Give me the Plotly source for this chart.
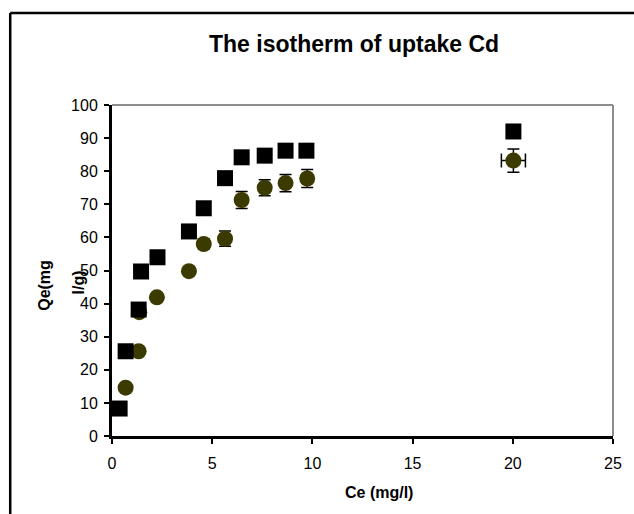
import plotly.graph_objects as go

# ---- data ----
sq_x = [0.38, 0.68, 1.33, 1.45, 2.27, 3.84, 4.58, 5.64, 6.47, 7.62, 8.66, 9.70, 20.03]
sq_y = [8.3, 25.6, 38.2, 49.7, 54.0, 61.8, 68.8, 77.9, 84.2, 84.7, 86.2, 86.2, 92.0]

ci_x = [0.68, 1.33, 1.36, 2.24, 3.84, 4.58, 5.64, 6.47, 7.62, 8.66, 9.74, 20.03]
ci_y = [14.6, 25.6, 37.4, 41.9, 49.8, 58.0, 59.6, 71.3, 75.0, 76.4, 77.8, 83.2]
ci_yerr = [1.0, 1.0, 1.0, 1.0, 1.0, 1.5, 2.3, 2.6, 2.4, 2.6, 2.7, 3.5]
ci_xerr = [0, 0, 0, 0, 0, 0, 0, 0, 0, 0, 0, 0.6]

title_text = "The isotherm of uptake Cd"
x_title = "Ce (mg/l)"
y_title_lines = ["Qe(mg", "l/g)"]

FONT = "Liberation Sans, Arial, sans-serif"

W, H = 634, 514
# plot area in page pixels
PL, PR, PT, PB = 112, 619, 105, 436
L = PL
R = W - PR
T = PT
B = H - PB
pw = W - L - R
ph = H - T - B


def px(xp):
    return (xp - L) / pw


def py(yp):
    return (H - B - yp) / ph


fig = go.Figure()

fig.add_trace(go.Scatter(
    x=ci_x, y=ci_y, mode="markers",
    marker=dict(symbol="circle", size=16, color="#3b3a00", line=dict(width=0)),
    error_y=dict(type="data", array=ci_yerr, visible=True, color="black", thickness=1.5, width=6),
    error_x=dict(type="data", array=ci_xerr, visible=True, color="black", thickness=1.5, width=7),
    showlegend=False, cliponaxis=False,
))
fig.add_trace(go.Scatter(
    x=sq_x, y=sq_y, mode="markers",
    marker=dict(symbol="square", size=16, color="black", line=dict(width=0)),
    showlegend=False, cliponaxis=False,
))

fig.update_layout(
    width=W, height=H,
    margin=dict(l=L, r=R, t=T, b=B, pad=0),
    paper_bgcolor="white", plot_bgcolor="white",
    font=dict(family=FONT, color="black", size=16),
    xaxis=dict(range=[0, 25], dtick=5, tick0=0, showgrid=False, zeroline=False,
               showline=True, linecolor="black", linewidth=3,
               ticks="outside", ticklen=5, tickwidth=2, tickcolor="black",
               tickfont=dict(size=16, family=FONT, color="black"),
               ticklabelstandoff=6),
    yaxis=dict(range=[0, 100], dtick=10, tick0=0, showgrid=False, zeroline=False,
               showline=True, linecolor="black", linewidth=3,
               ticks="outside", ticklen=5, tickwidth=2, tickcolor="black",
               tickfont=dict(size=16, family=FONT, color="black"),
               ticklabelstandoff=3),
    shapes=[
        dict(type="line", xref="paper", yref="paper", x0=0, x1=1, y0=1, y1=1,
             line=dict(color="#8c8c8c", width=2)),
        dict(type="line", xref="paper", yref="paper", x0=1, x1=1, y0=0, y1=1,
             line=dict(color="#8c8c8c", width=2)),
        # outer chart border (left and top visible)
        dict(type="line", xref="paper", yref="paper",
             x0=px(9), x1=px(9), y0=py(530), y1=py(13),
             line=dict(color="black", width=2.5)),
        dict(type="line", xref="paper", yref="paper",
             x0=px(9), x1=px(660), y0=py(13), y1=py(13),
             line=dict(color="black", width=2.5)),
    ],
    annotations=[
        dict(text="<b>" + title_text + "</b>", xref="paper", yref="paper",
             x=px(357), y=py(44), xanchor="center", yanchor="middle",
             showarrow=False, font=dict(size=23, family=FONT, color="black")),
        dict(text="<b>" + x_title + "</b>", xref="paper", yref="paper",
             x=px(382), y=py(492), xanchor="center", yanchor="middle",
             showarrow=False, font=dict(size=16, family=FONT, color="black")),
        dict(text="<b>" + y_title_lines[0] + "</b>", xref="paper", yref="paper",
             x=px(43), y=py(285), xanchor="center", yanchor="middle", textangle=-90,
             showarrow=False, font=dict(size=16, family=FONT, color="black")),
        dict(text="<b>" + y_title_lines[1] + "</b>", xref="paper", yref="paper",
             x=px(78), y=py(282), xanchor="center", yanchor="middle", textangle=-90,
             showarrow=False, font=dict(size=16, family=FONT, color="black")),
    ],
)

fig.write_html(
    "out.html",
    config={"displayModeBar": False},
    post_script="document.body.style.margin='0';document.body.style.overflow='hidden';",
)
